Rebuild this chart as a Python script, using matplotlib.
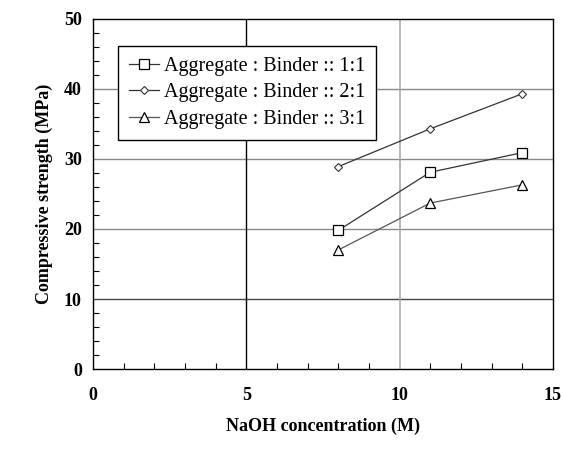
import matplotlib
matplotlib.use('Agg')
import matplotlib.pyplot as plt
from matplotlib.ticker import MultipleLocator

plt.rcParams['font.family'] = ['Liberation Serif', 'DejaVu Serif']

# NaOH concentration (M) and compressive strength (MPa)
naoh = [8, 11, 14]
ratio_1_1 = [19.8, 28.1, 30.9]
ratio_2_1 = [28.9, 34.3, 39.3]
ratio_3_1 = [17.0, 23.7, 26.3]
labels = ['Aggregate : Binder :: 1:1', 'Aggregate : Binder :: 2:1', 'Aggregate : Binder :: 3:1']

fig = plt.figure(figsize=(5.63, 4.49), dpi=100)
ax = fig.add_axes([0.165, 0.178, 0.817, 0.780])

ax.plot(naoh, ratio_1_1, color='#333333', lw=0.9, marker='s', ms=6.5,
        mfc='white', mec='black', mew=0.9, label=labels[0])
ax.plot(naoh, ratio_2_1, color='#333333', lw=0.9, marker='D', ms=4.5,
        mfc='white', mec='#333333', mew=0.8, label=labels[1])
ax.plot(naoh, ratio_3_1, color='#555555', lw=0.9, marker='^', ms=6.5,
        mfc='white', mec='black', mew=0.9, label=labels[2])

ax.set_xlim(0, 15)
ax.set_ylim(0, 50)
ax.xaxis.set_major_locator(MultipleLocator(5))
ax.xaxis.set_minor_locator(MultipleLocator(1))
ax.yaxis.set_major_locator(MultipleLocator(10))
ax.yaxis.set_minor_locator(MultipleLocator(2))

ax.tick_params(axis='both', which='both', direction='in', top=False, right=False)
ax.tick_params(axis='x', which='major', length=0, pad=13, labelsize=13)
ax.tick_params(axis='y', which='major', length=0, pad=8, labelsize=13)
ax.tick_params(which='minor', length=4, width=0.8)
for lab in ax.get_xticklabels() + ax.get_yticklabels():
    lab.set_fontweight('bold')

# grid lines
for y, c in [(10, '#444444'), (20, '#888888'), (30, '#888888'), (40, '#888888')]:
    ax.axhline(y, color=c, lw=1.0, zorder=0)
ax.axvline(5, color='black', lw=1.0, zorder=0)
ax.axvline(10, color='#aaaaaa', lw=1.2, zorder=0)

for s in ax.spines.values():
    s.set_color('black')
    s.set_linewidth(1.0)

ax.set_xlabel('NaOH concentration (M)', fontsize=13, fontweight='bold', labelpad=10)
ax.set_ylabel('Compressive strength (MPa)', fontsize=13, fontweight='bold', labelpad=8)

leg = ax.legend(loc='upper left', bbox_to_anchor=(0.032, 0.951), fontsize=14.5,
                fancybox=False, edgecolor='black', framealpha=1,
                handlelength=1.5, handletextpad=0.25, borderpad=0.55,
                labelspacing=0.35)
leg.get_frame().set_linewidth(1.0)

fig.savefig('out.png', dpi=100)
